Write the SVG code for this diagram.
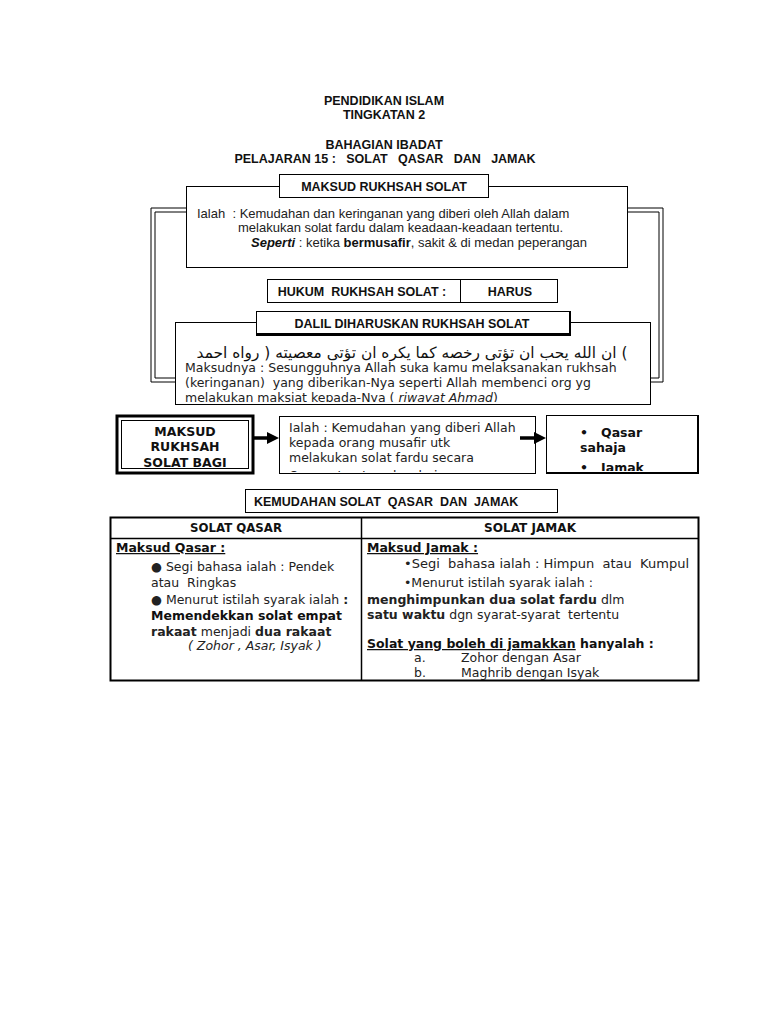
<svg xmlns="http://www.w3.org/2000/svg" width="768" height="1024" viewBox="0 0 768 1024">
<style>
.bx{fill:#fff;stroke:#000;stroke-width:1}
.hd{font-family:"Liberation Sans",Arial,sans-serif;font-weight:bold;font-size:12.5px;fill:#111}
.ar{font-family:"Liberation Sans",Arial,sans-serif;font-size:13px;fill:#222}
.dv{font-family:"DejaVu Sans",sans-serif;font-size:12.5px;fill:#222}
.dvb{font-family:"DejaVu Sans",sans-serif;font-size:12.5px;font-weight:bold;fill:#111}
.ln{fill:none;stroke:#000;stroke-width:1}
</style>
<defs>
<clipPath id="c1"><rect x="175" y="335" width="476" height="67"/></clipPath>
<clipPath id="c2"><rect x="280" y="417" width="255" height="55"/></clipPath>
<clipPath id="c3"><rect x="547" y="416" width="150" height="55"/></clipPath>
</defs>
<rect width="768" height="1024" fill="#fff"/>

<g id="title" text-anchor="middle">
<text x="384" y="105" class="hd">PENDIDIKAN ISLAM</text>
<text x="384" y="119" class="hd">TINGKATAN 2</text>
<text x="384" y="149" class="hd">BAHAGIAN IBADAT</text>
<text x="385" y="163" class="hd" font-size="12.8" xml:space="preserve">PELAJARAN 15 :   SOLAT   QASAR   DAN   JAMAK</text>
</g>

<g id="maksud">
<rect class="bx" x="186.5" y="186.5" width="441" height="81"/>
<rect class="bx" x="279.5" y="174.5" width="209" height="23"/>
<text x="384" y="191" class="hd" text-anchor="middle">MAKSUD RUKHSAH SOLAT</text>
<text x="197" y="218" class="ar" xml:space="preserve">Ialah  : Kemudahan dan keringanan yang diberi oleh Allah dalam</text>
<text x="238" y="232" class="ar">melakukan solat fardu dalam keadaan-keadaan  tertentu.</text>
<text x="251" y="247" class="ar"><tspan font-weight="bold" font-style="italic" fill="#111">Seperti</tspan> : ketika <tspan font-weight="bold" fill="#111">bermusafir</tspan>, sakit &amp; di medan peperangan</text>
</g>

<g id="hukum">
<rect class="bx" x="267.5" y="279.5" width="290" height="23"/>
<line class="ln" x1="460.5" y1="279.5" x2="460.5" y2="302.5"/>
<text x="362" y="296" class="hd" text-anchor="middle" xml:space="preserve">HUKUM  RUKHSAH SOLAT :</text>
<text x="510" y="296" class="hd" text-anchor="middle">HARUS</text>
</g>

<g id="dalil">
<rect class="bx" x="175.5" y="322.5" width="475" height="82"/>
<rect class="bx" x="256.5" y="311.5" width="313" height="22"/>
<path d="M570,311 V335 H256" fill="none" stroke="#000" stroke-width="2"/>
<text x="412" y="328" class="hd" text-anchor="middle">DALIL DIHARUSKAN RUKHSAH SOLAT</text>
<g clip-path="url(#c1)">
<text x="412" y="358" text-anchor="middle" direction="rtl" unicode-bidi="embed" font-family="DejaVu Sans, sans-serif" font-size="15.4" fill="#111">) ان الله يحب ان تؤتى رخصه كما يكره ان تؤتى معصيته ( رواه احمد</text>
<text x="185" y="372" class="dv" font-size="13">Maksudnya : Sesungguhnya Allah suka kamu melaksanakan rukhsah</text>
<text x="185" y="387" class="dv" font-size="13" xml:space="preserve">(keringanan)  yang diberikan-Nya seperti Allah membenci org yg</text>
<text x="185" y="402" class="dv" font-size="13">melakukan maksiat kepada-Nya ( <tspan font-style="italic">riwayat Ahmad</tspan>)</text>
</g>
</g>

<g id="bagi">
<rect x="117" y="416" width="136" height="57" fill="#fff" stroke="#000" stroke-width="3"/>
<rect class="bx" x="121.5" y="420.5" width="127" height="48"/>
<text x="185" y="436" class="dvb" text-anchor="middle">MAKSUD</text>
<text x="185" y="451" class="dvb" text-anchor="middle">RUKHSAH</text>
<text x="185" y="467" class="dvb" text-anchor="middle">SOLAT BAGI</text>
</g>

<g id="ialah">
<rect class="bx" x="279.5" y="416.5" width="256" height="57"/>
<g clip-path="url(#c2)">
<text x="289" y="432" class="dv">Ialah : Kemudahan yang diberi Allah</text>
<text x="289" y="447" class="dv">kepada orang musafir utk</text>
<text x="289" y="462" class="dv">melakukan solat fardu secara</text>
<text x="289" y="480" class="dv">Qasar atau Jamak sahaja</text>
</g>
</g>

<g id="jenis">
<rect class="bx" x="546.5" y="415.5" width="151" height="57"/>
<path d="M698,415 V473 H546" fill="none" stroke="#000" stroke-width="2"/>
<g clip-path="url(#c3)">
<text x="580" y="437" class="dvb" font-size="13" xml:space="preserve">•   Qasar</text>
<text x="580" y="452" class="dvb" font-size="13">sahaja</text>
<text x="580" y="472" class="dvb" font-size="13" xml:space="preserve">•   Jamak</text>
</g>
</g>

<g id="kemudahan">
<rect class="bx" x="245.5" y="489.5" width="312" height="23"/>
<text x="254" y="506" class="hd" xml:space="preserve">KEMUDAHAN SOLAT  QASAR  DAN  JAMAK</text>
</g>

<g id="table">
<rect x="110.5" y="517.5" width="588" height="163" fill="#fff" stroke="#000" stroke-width="2"/>
<line x1="110" y1="538.5" x2="699" y2="538.5" stroke="#000" stroke-width="1.5"/>
<line x1="361.5" y1="517" x2="361.5" y2="681" stroke="#000" stroke-width="1.5"/>
<text x="236" y="532" class="dvb" text-anchor="middle" font-size="12" textLength="92" lengthAdjust="spacingAndGlyphs">SOLAT QASAR</text>
<text x="530" y="532" class="dvb" text-anchor="middle" font-size="12" textLength="92" lengthAdjust="spacingAndGlyphs">SOLAT JAMAK</text>

<text x="116" y="552" class="dvb" text-decoration="underline">Maksud Qasar :</text>
<text x="151" y="571" class="dv">● Segi bahasa ialah : Pendek</text>
<text x="151" y="587" class="dv" xml:space="preserve">atau  Ringkas</text>
<text x="151" y="604" class="dv">● Menurut istilah syarak ialah <tspan font-weight="bold">:</tspan></text>
<text x="151" y="620" class="dvb" font-size="12.8">Memendekkan solat empat</text>
<text x="151" y="636" class="dv" font-size="12.8"><tspan font-weight="bold">rakaat</tspan> menjadi <tspan font-weight="bold">dua rakaat</tspan></text>
<text x="188" y="650" class="dv" font-style="italic">( Zohor , Asar, Isyak )</text>

<text x="367" y="552" class="dvb" text-decoration="underline">Maksud Jamak :</text>
<text x="404" y="568" class="dv" xml:space="preserve" textLength="285" lengthAdjust="spacingAndGlyphs">•Segi  bahasa ialah : Himpun  atau  Kumpul</text>
<text x="404" y="587" class="dv">•Menurut istilah syarak ialah :</text>
<text x="367" y="604" class="dv"><tspan font-weight="bold">menghimpunkan dua solat fardu</tspan> dlm</text>
<text x="367" y="619" class="dv" xml:space="preserve"><tspan font-weight="bold">satu waktu</tspan> dgn syarat-syarat  tertentu</text>
<text x="367" y="648" class="dvb"><tspan text-decoration="underline">Solat yang boleh di jamakkan</tspan> hanyalah :</text>
<text x="414" y="662" class="dv">a.</text>
<text x="461" y="662" class="dv">Zohor dengan Asar</text>
<text x="414" y="677" class="dv">b.</text>
<text x="461" y="677" class="dv">Maghrib dengan Isyak</text>
</g>

<g id="connectors">
<path class="ln" d="M186,208 H151 V382 H175 M186,212 H155 V378 H175"/>
<path class="ln" d="M628,208 H663 V382 H651 M628,212 H659 V378 H651"/>
<line x1="254" y1="438" x2="269" y2="438" stroke="#000" stroke-width="3.5"/>
<polygon points="267,432 279,438 267,444" fill="#000"/>
<line x1="520" y1="438" x2="536" y2="438" stroke="#000" stroke-width="3.5"/>
<polygon points="534,432 546,438 534,444" fill="#000"/>
</g>
</svg>
